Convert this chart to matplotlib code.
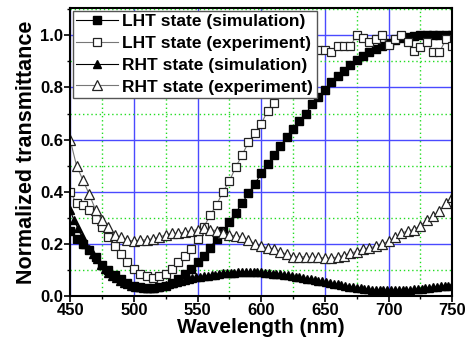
import matplotlib
matplotlib.use("Agg")
import matplotlib.pyplot as plt
from matplotlib.ticker import MultipleLocator

plt.rcParams['font.family'] = ['Liberation Sans', 'DejaVu Sans']
plt.rcParams['font.weight'] = 'bold'

# wavelength grid of the 5 nm series
wl5 = [450, 455, 460, 465, 470, 475, 480, 485, 490, 495, 500, 505, 510, 515, 520,
       525, 530, 535, 540, 545, 550, 555, 560, 565, 570, 575, 580, 585, 590, 595,
       600, 605, 610, 615, 620, 625, 630, 635, 640, 645, 650, 655, 660, 665, 670,
       675, 680, 685, 690, 695, 700, 705, 710, 715, 720, 725, 730, 735, 740, 745, 750]

# LHT state (simulation)
lht_sim = [0.25, 0.22, 0.20, 0.175, 0.15, 0.12, 0.10, 0.08, 0.065, 0.05, 0.04, 0.035, 0.03, 0.03, 0.035,
           0.04, 0.05, 0.065, 0.085, 0.105, 0.13, 0.155, 0.185, 0.22, 0.25, 0.285, 0.32, 0.355, 0.395, 0.43,
           0.47, 0.505, 0.54, 0.575, 0.61, 0.64, 0.67, 0.70, 0.735, 0.765, 0.79, 0.82, 0.845, 0.865, 0.885,
           0.905, 0.92, 0.935, 0.948, 0.96, 0.972, 0.982, 0.99, 0.995, 0.998, 1.0, 1.0, 1.0, 1.0, 1.0, 1.0]

# LHT state (experiment)
lht_exp = [0.40, 0.355, 0.35, 0.33, 0.295, 0.265, 0.225, 0.19, 0.16, 0.13, 0.105, 0.085, 0.075, 0.07, 0.075,
           0.085, 0.105, 0.13, 0.155, 0.18, 0.22, 0.265, 0.31, 0.35, 0.40, 0.44, 0.495, 0.54, 0.59, 0.625,
           0.66, 0.71, 0.74, 0.78, 0.82, 0.86, 0.89, 0.91, 0.93, 0.945, 0.945, 0.935, 0.96, 0.96, 0.96,
           1.0, 0.99, 0.975, 0.985, 1.0, 0.965, 0.985, 1.0, 0.975, 0.94, 0.955, 0.975, 0.935, 0.935, 0.985, 0.96]

# RHT state (experiment)
rht_exp = [0.60, 0.50, 0.445, 0.39, 0.33, 0.29, 0.265, 0.235, 0.225, 0.215, 0.21, 0.215, 0.215, 0.22, 0.225,
           0.235, 0.24, 0.24, 0.245, 0.25, 0.255, 0.26, 0.255, 0.25, 0.24, 0.235, 0.23, 0.225, 0.215, 0.20,
           0.19, 0.185, 0.18, 0.17, 0.16, 0.15, 0.15, 0.15, 0.148, 0.148, 0.145, 0.145, 0.15, 0.155, 0.165,
           0.17, 0.18, 0.185, 0.19, 0.20, 0.21, 0.225, 0.24, 0.25, 0.255, 0.27, 0.29, 0.305, 0.325, 0.355, 0.38]

# RHT state (simulation), denser 3 nm grid
wl3 = [450, 453, 456, 459, 462, 465, 468, 471, 474, 477, 480, 483, 486, 489, 492, 495, 498,
       501, 504, 507, 510, 513, 516, 519, 522, 525, 528, 531, 534, 537, 540, 543, 546, 549,
       552, 555, 558, 561, 564, 567, 570, 573, 576, 579, 582, 585, 588, 591, 594, 597, 600,
       603, 606, 609, 612, 615, 618, 621, 624, 627, 630, 633, 636, 639, 642, 645, 648, 651,
       654, 657, 660, 663, 666, 669, 672, 675, 678, 681, 684, 687, 690, 693, 696, 699, 702,
       705, 708, 711, 714, 717, 720, 723, 726, 729, 732, 735, 738, 741, 744, 747, 750]
rht_sim = [0.33, 0.29, 0.26, 0.23, 0.20, 0.18, 0.16, 0.14, 0.12, 0.105, 0.09, 0.078, 0.068, 0.058, 0.051, 0.045, 0.040,
           0.036, 0.033, 0.031, 0.030, 0.030, 0.031, 0.034, 0.038, 0.042, 0.047, 0.051, 0.055, 0.059, 0.062, 0.065, 0.068, 0.071,
           0.073, 0.076, 0.078, 0.080, 0.082, 0.085, 0.087, 0.088, 0.089, 0.090, 0.091, 0.092, 0.093, 0.093, 0.092, 0.092, 0.091,
           0.090, 0.088, 0.086, 0.085, 0.083, 0.081, 0.079, 0.077, 0.074, 0.072, 0.069, 0.066, 0.064, 0.061, 0.058, 0.056, 0.053,
           0.050, 0.047, 0.045, 0.042, 0.039, 0.036, 0.034, 0.032, 0.030, 0.028, 0.026, 0.024, 0.023, 0.022, 0.021, 0.021, 0.021,
           0.021, 0.021, 0.022, 0.022, 0.023, 0.025, 0.026, 0.027, 0.029, 0.031, 0.033, 0.035, 0.037, 0.039, 0.040, 0.042]

fig = plt.figure(figsize=(4.74, 3.49), dpi=100)
ax = fig.add_axes([0.148, 0.152, 0.806, 0.825])

# grid first so markers sit on top
ax.set_axisbelow(True)
ax.grid(which='major', color='#4a4aff', linestyle='-', linewidth=1.0)
ax.grid(which='minor', color='#22dd22', linestyle=(0, (1, 2)), linewidth=1.0)

ax.plot(wl5, lht_sim, '-', color='black', lw=0.8, marker='s', ms=5.5,
        mfc='black', mec='black', label='LHT state (simulation)')
ax.plot(wl5, lht_exp, '-', color='#777777', lw=0.8, marker='s', ms=5.5,
        mfc='white', mec='#222222', mew=0.9, label='LHT state (experiment)')
ax.plot(wl3, rht_sim, '-', color='black', lw=0.8, marker='^', ms=6,
        mfc='black', mec='black', label='RHT state (simulation)')
ax.plot(wl5, rht_exp, '-', color='#777777', lw=0.8, marker='^', ms=6.5,
        mfc='white', mec='#222222', mew=0.9, label='RHT state (experiment)')

ax.set_xlim(450, 750)
ax.set_ylim(0, 1.105)
ax.xaxis.set_major_locator(MultipleLocator(50))
ax.xaxis.set_minor_locator(MultipleLocator(25))
ax.yaxis.set_major_locator(MultipleLocator(0.2))
ax.yaxis.set_minor_locator(MultipleLocator(0.1))
ax.yaxis.set_major_formatter(plt.FormatStrFormatter('%.1f'))
ax.tick_params(which='major', direction='out', length=4, width=1.2, labelsize=12, pad=1)
ax.tick_params(which='minor', direction='out', length=2.5, width=1)

for s in ax.spines.values():
    s.set_linewidth(1.5)

ax.set_xlabel('Wavelength (nm)', fontsize=15, fontweight='bold', labelpad=0)
ax.set_ylabel('Normalized transmittance', fontsize=15.5, fontweight='bold', labelpad=2)

leg = ax.legend(loc='upper left', fontsize=12.5, handlelength=2.4, handletextpad=0.25,
                labelspacing=0.38, borderpad=0.2, borderaxespad=0.15, fancybox=False,
                framealpha=1, edgecolor='#555555')
leg.get_frame().set_linewidth(1.0)

plt.savefig('out.png', dpi=100)
